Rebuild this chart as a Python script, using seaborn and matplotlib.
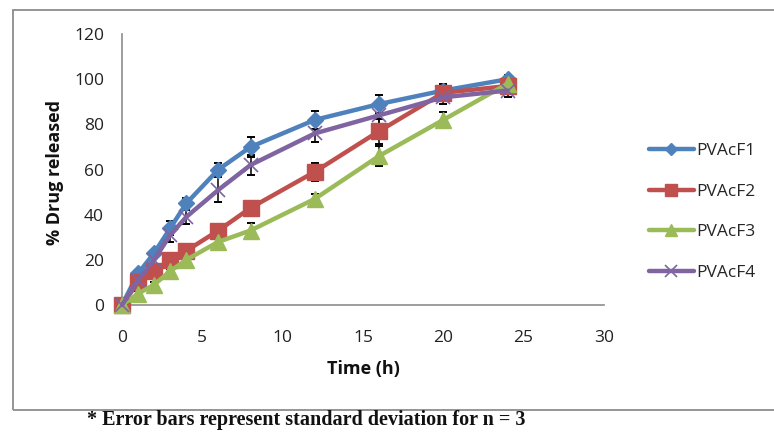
import numpy as np
import pandas as pd
import matplotlib
matplotlib.use("Agg")
import matplotlib.pyplot as plt
import matplotlib.patches as mpatches
import seaborn as sns

# time points (h)
time_h = [0, 1, 2, 3, 4, 6, 8, 12, 16, 20, 24]

# % drug released for each formulation
f1 = [0, 14, 23, 34, 45, 60, 70, 82, 89, 95, 100]
f2 = [0, 10, 15, 20, 24, 33, 43, 59, 77, 94, 97]
f3 = [0, 5, 9, 15, 20, 28, 33, 47, 66, 82, 98]
f4 = [0, 11, 20, 31, 39, 51, 62, 76, 84, 92, 95]

# standard deviations (n = 3)
sd1 = [0, 1, 1.5, 3, 2.5, 3, 4.5, 4, 4, 3, 2]
sd2 = [0, 1, 1, 1, 1, 1.5, 2, 4, 5.5, 3, 2]
sd3 = [0, 1, 1, 1, 1, 1.5, 3.5, 2, 4.5, 3.5, 2]
sd4 = [0, 1, 2, 3, 3, 5.5, 4.5, 4, 4, 3, 3]

names = ["PVAcF1", "PVAcF2", "PVAcF3", "PVAcF4"]
series = [f1, f2, f3, f4]
sds = [sd1, sd2, sd3, sd4]

colors = {"PVAcF1": "#4F81BD", "PVAcF2": "#C0504D",
          "PVAcF3": "#9BBB59", "PVAcF4": "#8064A2"}
markers = {"PVAcF1": "D", "PVAcF2": "s", "PVAcF3": "^", "PVAcF4": "x"}
msizes = {"PVAcF1": 8, "PVAcF2": 11, "PVAcF3": 11.5, "PVAcF4": 10}

sns.set_style("white")
plt.rcParams["font.family"] = ["Open Sans", "DejaVu Sans"]

fig = plt.figure(figsize=(7.74, 4.37), dpi=100)
ax = fig.add_axes([0.1576, 0.302, 0.6227, 0.620])

for name, vals in zip(names, series):
    d = pd.DataFrame({"Time": time_h, "Release": vals})
    sns.lineplot(data=d, x="Time", y="Release", color=colors[name],
                 marker=markers[name], markersize=msizes[name],
                 markeredgecolor=colors[name],
                 markeredgewidth=1.2 if markers[name] == "x" else 1,
                 linewidth=3.2, ax=ax, clip_on=False, zorder=3)

# error bars (behind the markers, like the original)
for name, vals, sd in zip(names, series, sds):
    ax.errorbar(time_h, vals, yerr=sd, fmt="none", ecolor="black",
                elinewidth=1.1, capsize=3, capthick=1.4, zorder=2.5, clip_on=False)

ax.set_xlim(0, 30)
ax.set_ylim(0, 120)
ax.set_xticks(range(0, 31, 5))
ax.set_yticks(range(0, 121, 20))

for s in ["top", "right"]:
    ax.spines[s].set_visible(False)
for s in ["left", "bottom"]:
    ax.spines[s].set_color("#8c8c8c")
    ax.spines[s].set_linewidth(1.2)

ax.tick_params(axis="both", direction="out", length=5, width=1.1,
               color="#8c8c8c", labelsize=12.5, labelcolor="#222222")
ax.tick_params(axis="x", pad=13)
ax.tick_params(axis="y", pad=7, length=6)

ax.set_xlabel("Time (h)", fontsize=13, fontweight="bold", color="#111111")
ax.set_ylabel("% Drug released", fontsize=13, fontweight="bold", color="#111111")
ax.xaxis.set_label_coords(0.502, -0.203)
ax.yaxis.set_label_coords(-0.12, 0.49)

# legend
handles = [plt.Line2D([], [], color=colors[n], marker=markers[n], lw=3.2,
                      markersize=msizes[n] * 0.8,
                      markeredgewidth=1.2 if markers[n] == "x" else 1)
           for n in names]
leg = fig.legend(handles, names, loc="center left",
                 bbox_to_anchor=(0.818, 0.515), frameon=False,
                 fontsize=12.5, handlelength=2.6, handletextpad=0.15,
                 labelspacing=1.4)

# outer chart border
fig.patches.append(mpatches.Rectangle((0.0168, 0.0618), 1.1, 0.915,
                                      transform=fig.transFigure, fill=False,
                                      edgecolor="#8c8c8c", linewidth=1.3))

fig.text(0.112, 0.038, "* Error bars represent standard deviation for n = 3",
         fontsize=14.5, fontweight="bold", family="Liberation Serif",
         ha="left", va="center", color="#111111")

fig.savefig("out.png", dpi=100)
